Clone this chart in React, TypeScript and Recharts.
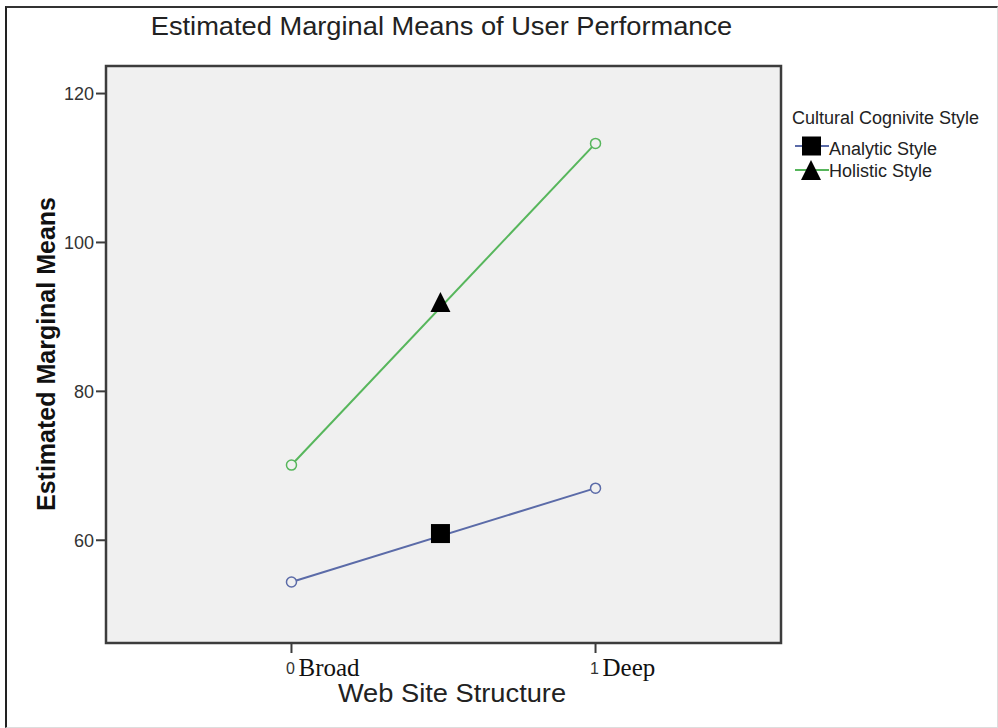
import { ComposedChart, Line, Scatter, XAxis, YAxis, CartesianGrid, ReferenceArea, Legend } from 'recharts'

const xLevels = [0, 1]
const xLevelNames = ['Broad', 'Deep']
const analyticMeans = [54.4, 67.0]
const holisticMeans = [70.1, 113.3]
const seriesNames = ['Analytic Style', 'Holistic Style']
const markerX = 0.49
const markerMeans = [60.9, 92.0]
const yTicks = [60, 80, 100, 120]

const X_DOMAIN: [number, number] = [-0.61, 1.61]
const Y_DOMAIN: [number, number] = [46.2, 123.7]
const SANS = '"Liberation Sans", Arial, sans-serif'
const SERIF = '"Liberation Serif", "Times New Roman", serif'
const BLUE = '#5b6ba8'
const GREEN = '#57b65c'
const FRAME = '#3c3c3c'

const analyticData = xLevels.map((x, i) => ({ x, y: analyticMeans[i] }))
const holisticData = xLevels.map((x, i) => ({ x, y: holisticMeans[i] }))
const analyticMarker = [{ x: markerX, y: markerMeans[0] }]
const holisticMarker = [{ x: markerX, y: markerMeans[1] }]

const Square = (props: any) => {
  const { cx, cy } = props
  return <rect x={cx - 9.5} y={cy - 9.5} width={19} height={19} fill="#000" />
}

const Triangle = (props: any) => {
  const { cx, cy } = props
  return <polygon points={`${cx},${cy - 10} ${cx - 10},${cy + 10} ${cx + 10},${cy + 10}`} fill="#000" />
}

const XTick = (props: any) => {
  const { x, y, payload } = props
  const i = xLevels.indexOf(payload.value)
  return (
    <g>
      <text x={x - 1} y={y + 19} textAnchor="middle" fontSize={16} fontFamily={SANS} fill="#333">
        {payload.value}
      </text>
      <text x={x + 7} y={y + 21} textAnchor="start" fontSize={25} fontFamily={SERIF} fill="#111">
        {xLevelNames[i]}
      </text>
    </g>
  )
}

const LegendBox = () => (
  <svg width={214} height={90} style={{ display: 'block' }}>
    <text x={10} y={24} fontSize={18} fontFamily={SANS} fill="#222">
      Cultural Cognivite Style
    </text>
    <line x1={13} x2={47} y1={46} y2={46} stroke={BLUE} strokeWidth={2} />
    <rect x={20} y={36.5} width={19} height={19} fill="#000" />
    <text x={47} y={55} fontSize={18} fontFamily={SANS} fill="#222">
      {seriesNames[0]}
    </text>
    <line x1={13} x2={47} y1={70} y2={70} stroke={GREEN} strokeWidth={2} />
    <polygon points="29,60 19,80 39,80" fill="#000" />
    <text x={47} y={77} fontSize={18} fontFamily={SANS} fill="#222">
      {seriesNames[1]}
    </text>
  </svg>
)

export default function App() {
  return (
    <div style={{ position: 'absolute', left: 0, top: 0, width: 998, height: 728, background: '#fff' }}>
      <div
        style={{
          position: 'absolute',
          left: 5,
          top: 6,
          width: 990,
          height: 719,
          borderLeft: '2px solid #222',
          borderTop: '2px solid #333',
          borderRight: '1px solid #ddd',
          borderBottom: '1px solid #ddd',
        }}
      />
      <ComposedChart width={998} height={728} margin={{ top: 66, right: 217, bottom: 35, left: 46 }}>
        <CartesianGrid horizontal={false} vertical={false} fill="#f0f0f0" />
        <XAxis
          type="number"
          dataKey="x"
          domain={X_DOMAIN}
          ticks={xLevels}
          allowDataOverflow
          height={50}
          axisLine={false}
          tickSize={10}
          tickMargin={2}
          tickLine={{ stroke: FRAME, strokeWidth: 2 }}
          tick={<XTick />}
        />
        <YAxis
          type="number"
          domain={Y_DOMAIN}
          ticks={yTicks}
          allowDataOverflow
          width={60}
          axisLine={false}
          tickSize={10}
          tickMargin={2}
          tickLine={{ stroke: FRAME, strokeWidth: 2 }}
          tick={{ fontSize: 18, fill: '#333', fontFamily: SANS }}
        />
        <ReferenceArea
          x1={X_DOMAIN[0]}
          x2={X_DOMAIN[1]}
          y1={Y_DOMAIN[0]}
          y2={Y_DOMAIN[1]}
          fill="none"
          fillOpacity={0}
          stroke={FRAME}
          strokeWidth={2.5}
          ifOverflow="visible"
        />
        <Line
          data={analyticData}
          dataKey="y"
          name={seriesNames[0]}
          stroke={BLUE}
          strokeWidth={2}
          dot={{ r: 5, stroke: BLUE, strokeWidth: 1.5, fill: '#f0f0f0' }}
          activeDot={false}
          isAnimationActive={false}
        />
        <Line
          data={holisticData}
          dataKey="y"
          name={seriesNames[1]}
          stroke={GREEN}
          strokeWidth={2}
          dot={{ r: 5, stroke: GREEN, strokeWidth: 1.5, fill: '#f0f0f0' }}
          activeDot={false}
          isAnimationActive={false}
        />
        <Scatter data={analyticMarker} dataKey="y" shape={<Square />} isAnimationActive={false} />
        <Scatter data={holisticMarker} dataKey="y" shape={<Triangle />} isAnimationActive={false} />
        <Legend
          layout="horizontal"
          verticalAlign="middle"
          align="center"
          content={<LegendBox />}
          wrapperStyle={{ position: 'absolute', left: 782, top: 100, width: 214, height: 90 }}
        />
      </ComposedChart>
      <div
        style={{
          position: 'absolute',
          left: 0,
          width: 883,
          top: 12,
          textAlign: 'center',
          fontFamily: SANS,
          fontSize: 25,
          color: '#222',
          transform: 'scaleX(1.09)',
          whiteSpace: 'nowrap',
        }}
      >
        Estimated Marginal Means of User Performance
      </div>
      <div
        style={{
          position: 'absolute',
          left: 46 - 200,
          top: 354 - 15,
          width: 400,
          height: 30,
          lineHeight: '30px',
          textAlign: 'center',
          transform: 'rotate(-90deg)',
          fontFamily: SANS,
          fontWeight: 'bold',
          fontSize: 25,
          color: '#111',
        }}
      >
        Estimated Marginal Means
      </div>
      <div
        style={{
          position: 'absolute',
          left: 252,
          width: 400,
          top: 679,
          textAlign: 'center',
          fontFamily: SANS,
          fontSize: 25,
          color: '#222',
          transform: 'scaleX(1.09)',
          whiteSpace: 'nowrap',
        }}
      >
        Web Site Structure
      </div>
    </div>
  )
}
